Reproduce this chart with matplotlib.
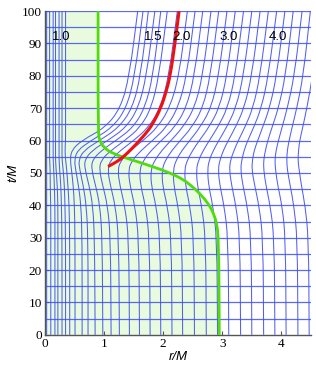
import matplotlib
matplotlib.use('Agg')  # headless
import matplotlib.pyplot as plt
from matplotlib.path import Path
from matplotlib.patches import PathPatch

# --- Data ---
# knot times shared by all coordinate worldlines
knot_t = [0, 30, 40, 46, 51, 54, 57, 60, 64, 70, 80, 100]

# worldlines that stay near the centre
inner_lines = [
    [0.03, 0.03, 0.03, 0.03, 0.03, 0.03, 0.03, 0.03, 0.03, 0.03, 0.03, 0.03],
    [0.10, 0.10, 0.10, 0.09, 0.09, 0.08, 0.08, 0.08, 0.08, 0.08, 0.08, 0.08],
    [0.17, 0.17, 0.17, 0.16, 0.15, 0.14, 0.14, 0.14, 0.14, 0.14, 0.14, 0.14],
    [0.22, 0.22, 0.22, 0.21, 0.19, 0.18, 0.18, 0.18, 0.18, 0.18, 0.18, 0.18],
    [0.29, 0.29, 0.28, 0.27, 0.25, 0.24, 0.24, 0.24, 0.24, 0.24, 0.24, 0.24],
    [0.35, 0.35, 0.34, 0.33, 0.31, 0.29, 0.29, 0.29, 0.29, 0.29, 0.29, 0.29],
    [0.42, 0.42, 0.41, 0.39, 0.37, 0.35, 0.34, 0.35, 0.35, 0.35, 0.35, 0.35],
]

# worldlines that dip during the collapse and are then pushed outward
outer_lines = [
    [0.51, 0.51, 0.50, 0.48, 0.45, 0.43, 0.45, 0.62, 1.02, 1.28, 1.43, 1.57],
    [0.63, 0.63, 0.61, 0.57, 0.52, 0.50, 0.55, 0.78, 1.14, 1.38, 1.52, 1.66],
    [0.73, 0.73, 0.70, 0.65, 0.59, 0.57, 0.66, 0.92, 1.25, 1.48, 1.62, 1.75],
    [0.85, 0.84, 0.81, 0.75, 0.68, 0.67, 0.80, 1.06, 1.37, 1.58, 1.72, 1.86],
    [0.98, 0.97, 0.93, 0.86, 0.79, 0.80, 0.96, 1.20, 1.49, 1.69, 1.83, 1.96],
    [1.12, 1.11, 1.06, 0.98, 0.92, 0.95, 1.12, 1.35, 1.61, 1.80, 1.93, 2.07],
    [1.26, 1.25, 1.19, 1.11, 1.06, 1.11, 1.28, 1.50, 1.75, 1.95, 2.10, 2.24],
    [1.43, 1.42, 1.35, 1.27, 1.23, 1.29, 1.45, 1.66, 1.90, 2.11, 2.27, 2.41],
    [1.60, 1.59, 1.52, 1.44, 1.41, 1.48, 1.63, 1.82, 2.05, 2.25, 2.40, 2.54],
    [1.78, 1.77, 1.70, 1.62, 1.60, 1.67, 1.80, 1.97, 2.19, 2.39, 2.53, 2.67],
    [1.96, 1.95, 1.88, 1.80, 1.79, 1.86, 1.98, 2.13, 2.33, 2.53, 2.67, 2.81],
    [2.15, 2.14, 2.07, 1.99, 1.98, 2.04, 2.15, 2.29, 2.48, 2.67, 2.80, 2.94],
    [2.33, 2.32, 2.25, 2.18, 2.17, 2.22, 2.32, 2.45, 2.62, 2.81, 2.94, 3.08],
    [2.53, 2.52, 2.45, 2.38, 2.36, 2.41, 2.50, 2.61, 2.77, 2.95, 3.08, 3.22],
    [2.73, 2.72, 2.65, 2.58, 2.56, 2.60, 2.68, 2.78, 2.92, 3.09, 3.22, 3.36],
    [2.92, 2.91, 2.84, 2.77, 2.75, 2.78, 2.85, 2.94, 3.07, 3.23, 3.36, 3.50],
    [3.11, 3.10, 3.03, 2.96, 2.93, 2.96, 3.02, 3.10, 3.22, 3.37, 3.50, 3.64],
    [3.31, 3.30, 3.23, 3.16, 3.12, 3.14, 3.20, 3.27, 3.38, 3.52, 3.64, 3.78],
    [3.50, 3.49, 3.42, 3.35, 3.31, 3.33, 3.37, 3.43, 3.53, 3.66, 3.78, 3.92],
    [3.70, 3.69, 3.62, 3.55, 3.50, 3.51, 3.54, 3.60, 3.68, 3.80, 3.92, 4.06],
    [3.89, 3.88, 3.81, 3.74, 3.70, 3.70, 3.73, 3.77, 3.84, 3.95, 4.07, 4.20],
    [4.08, 4.07, 4.01, 3.94, 3.90, 3.89, 3.91, 3.95, 4.01, 4.10, 4.22, 4.35],
    [4.28, 4.27, 4.21, 4.15, 4.10, 4.09, 4.10, 4.13, 4.18, 4.26, 4.37, 4.49],
    [4.47, 4.46, 4.40, 4.34, 4.30, 4.28, 4.29, 4.31, 4.36, 4.43, 4.53, 4.64],
]

# constant-time slices
slice_t = [5, 10, 15, 20, 25, 30, 35, 40, 45, 50, 55, 60, 65, 70, 75, 80, 85, 90, 95, 100]

# stellar surface (green)
surface_t = [0, 30, 35, 38, 40, 42, 44, 46, 48, 50, 52, 54, 56, 58, 60, 62, 100]
surface_r = [2.95, 2.94, 2.90, 2.84, 2.78, 2.70, 2.60, 2.48, 2.34, 2.12, 1.82, 1.48, 1.14, 0.99, 0.93, 0.90, 0.90]

# apparent horizon (red)
horizon_t = [52, 53.5, 55, 57.5, 60, 62.5, 65, 70, 75, 80, 90, 100]
horizon_r = [1.07, 1.22, 1.33, 1.47, 1.60, 1.72, 1.82, 1.96, 2.05, 2.12, 2.20, 2.27]

# line labels along the top
label_text = ['1.0', '1.5', '2.0', '3.0', '4.0']
label_r = [0.27, 1.84, 2.31, 3.10, 3.94]
label_t = 92

BLUE = '#3f4ff2'


def smooth_line(ax, xs, ys, **kw):
    """Draw a polyline as a quadratic B-spline through its knot midpoints."""
    pts = list(zip(xs, ys))
    verts = [pts[0]]
    codes = [Path.MOVETO]
    mids = [((a[0] + b[0]) / 2, (a[1] + b[1]) / 2) for a, b in zip(pts[:-1], pts[1:])]
    verts.append(mids[0])
    codes.append(Path.LINETO)
    for p, m in zip(pts[1:-1], mids[1:]):
        verts += [p, m]
        codes += [Path.CURVE3, Path.CURVE3]
    verts.append(pts[-1])
    codes.append(Path.LINETO)
    patch = PathPatch(Path(verts, codes), facecolor='none', edgecolor=kw.get('color'),
                      lw=kw.get('lw', 1), alpha=kw.get('alpha', 1), zorder=kw.get('zorder', 2))
    ax.add_patch(patch)


fig = plt.figure(figsize=(3.16, 3.70), dpi=100)
ax = fig.add_axes([0.142, 0.095, 0.842, 0.875])

ax.fill_betweenx(surface_t, 0, surface_r, color='#e9fbdf', lw=0, zorder=0)

for line in inner_lines + outer_lines:
    smooth_line(ax, line, knot_t, color=BLUE, lw=0.75, alpha=0.9, zorder=2)

for t in slice_t:
    ax.axhline(t, color=BLUE, lw=0.9, alpha=0.85, zorder=2)

smooth_line(ax, surface_r, surface_t, color='#4fdc0a', lw=2.0, zorder=3)
smooth_line(ax, horizon_r, horizon_t, color='#ee1111', lw=2.2, zorder=4)

for txt, r in zip(label_text, label_r):
    ax.text(r, label_t, txt, ha='center', va='center', fontsize=9.5,
            family='Liberation Sans', zorder=5)

ax.set_xlim(0, 4.5)
ax.set_ylim(0, 100)
ax.set_xticks([0, 1, 2, 3, 4])
ax.set_yticks(range(0, 101, 10))
ax.tick_params(direction='in', length=3, width=0.8, color='#555555', labelsize=9.5, pad=2)
for lab in ax.get_xticklabels() + ax.get_yticklabels():
    lab.set_family('Liberation Serif')
for side in ['top', 'right']:
    ax.spines[side].set_visible(False)
for side in ['left', 'bottom']:
    ax.spines[side].set_color('#555555')
    ax.spines[side].set_linewidth(1.0)

ax.set_xlabel('r/M', fontsize=9.5, style='italic', family='Liberation Sans', labelpad=1)
ax.set_ylabel('t/M', fontsize=9.5, style='italic', family='Liberation Sans', labelpad=2)

fig.savefig('out.png', dpi=100)
